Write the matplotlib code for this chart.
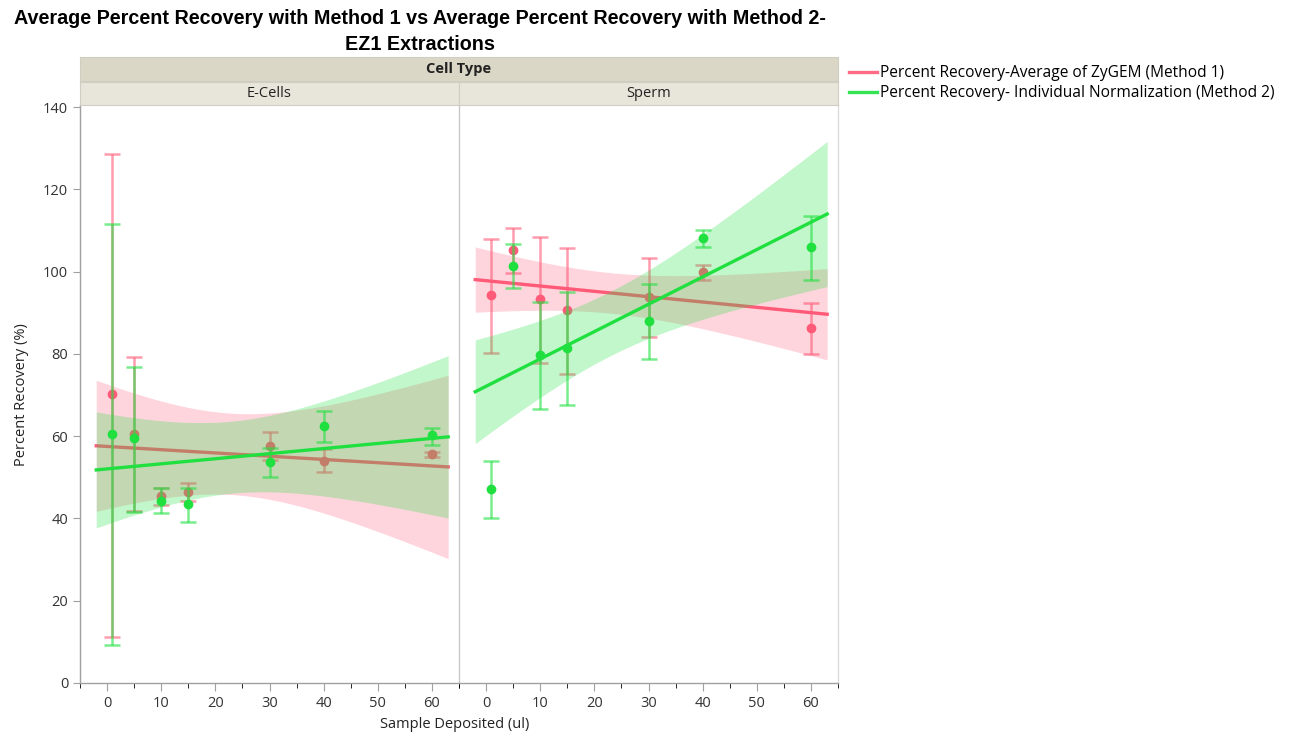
import numpy as np
import matplotlib
matplotlib.use("Agg")
import matplotlib.pyplot as plt
from matplotlib.lines import Line2D

plt.rcParams['font.family'] = ['Open Sans', 'DejaVu Sans']

# x values (sample deposited, ul)
deposited = np.array([1, 5, 10, 15, 30, 40, 60])

# E-Cells (mean, mean - SD, mean + SD)
ecell_m1 = np.array([70.2, 60.5, 45.4, 46.5, 57.6, 54.0, 55.6])
ecell_m1_lo = np.array([11.1, 41.7, 43.3, 44.2, 54.3, 51.2, 54.9])
ecell_m1_hi = np.array([128.7, 79.3, 47.4, 48.5, 60.9, 56.8, 56.2])
ecell_m2 = np.array([60.5, 59.5, 44.3, 43.5, 53.7, 62.5, 60.2])
ecell_m2_lo = np.array([9.2, 41.6, 41.3, 39.2, 50.0, 58.6, 57.9])
ecell_m2_hi = np.array([111.5, 76.9, 47.4, 47.4, 57.1, 66.2, 62.1])

# Sperm
sperm_m1 = np.array([94.2, 105.3, 93.3, 90.7, 93.9, 100.0, 86.3])
sperm_m1_lo = np.array([80.1, 99.7, 77.8, 75.1, 84.0, 98.0, 79.9])
sperm_m1_hi = np.array([107.9, 110.6, 108.5, 105.8, 103.4, 101.7, 92.4])
sperm_m2 = np.array([47.2, 101.4, 79.7, 81.4, 88.0, 108.2, 106.0])
sperm_m2_lo = np.array([40.1, 96.1, 66.5, 67.5, 78.8, 106.1, 98.0])
sperm_m2_hi = np.array([54.0, 106.6, 92.7, 95.0, 97.1, 110.0, 113.4])

panels = ["E-Cells", "Sperm"]
series_names = ["Percent Recovery-Average of ZyGEM (Method 1)",
                "Percent Recovery- Individual Normalization (Method 2)"]

PINK = "#ff5a78"
GREEN = "#20e040"
N_REP = 3       # replicates behind each mean
T975 = 2.093    # t quantile, df = 7*3 - 2


def fit_band(ax, x, y, sd, color, band_alpha, z):
    # linear fit through the means, 95% confidence band of the mean
    # using pooled replicate variation (sd from the error bars)
    b, a = np.polyfit(x, y, 1)
    res = y - (a + b * x)
    n = len(x) * N_REP
    sse = N_REP * np.sum(res ** 2) + (N_REP - 1) * np.sum(sd ** 2)
    s = np.sqrt(sse / (n - 2))
    sxx = N_REP * np.sum((x - x.mean()) ** 2)
    xs = np.linspace(-2, 63, 200)
    se = s * np.sqrt(1.0 / n + (xs - x.mean()) ** 2 / sxx)
    yf = a + b * xs
    ax.fill_between(xs, yf - T975 * se, yf + T975 * se, color=color,
                    alpha=band_alpha, lw=0, zorder=z)
    ax.plot(xs, yf, color=color, lw=2.4, zorder=z + 1)


def draw_series(ax, y, lo, hi, color, band_alpha, z):
    fit_band(ax, deposited, y, (hi - lo) / 2.0, color, band_alpha, z)
    ax.errorbar(deposited, y, yerr=[y - lo, hi - y], fmt='none',
                ecolor=color, alpha=0.6, elinewidth=1.8, capsize=6,
                capthick=1.8, zorder=z + 1)
    ax.plot(deposited, y, 'o', color=color, ms=6, zorder=z + 1)


fig = plt.figure(figsize=(12.93, 7.34), dpi=100)

W, H = 1293.0, 734.0
left0, right0, top0, bot0 = 80, 459, 105, 683
pw = right0 - left0
FS = 10.5

data = [
    [(ecell_m1, ecell_m1_lo, ecell_m1_hi), (ecell_m2, ecell_m2_lo, ecell_m2_hi)],
    [(sperm_m1, sperm_m1_lo, sperm_m1_hi), (sperm_m2, sperm_m2_lo, sperm_m2_hi)],
]

for i, name in enumerate(panels):
    x0 = left0 + i * pw
    ax = fig.add_axes([x0 / W, 1 - bot0 / H, pw / W, (bot0 - top0) / H])
    (m1, m1lo, m1hi), (m2, m2lo, m2hi) = data[i]
    draw_series(ax, m1, m1lo, m1hi, PINK, 0.25, 2)
    draw_series(ax, m2, m2lo, m2hi, GREEN, 0.27, 4)

    ax.set_xlim(-5, 65)
    ax.set_ylim(0, 140.5)
    ax.set_xticks(np.arange(0, 61, 10))
    ax.set_xticks(np.arange(-5, 66, 5), minor=True)
    ax.set_yticks(np.arange(0, 141, 20))
    ax.tick_params(axis='both', colors="#a0a0a0", labelcolor="#333333",
                   labelsize=FS, direction='out')
    ax.tick_params(axis='x', which='major', length=6)
    ax.tick_params(axis='x', which='minor', length=3.5)
    ax.tick_params(axis='y', length=5)
    for sp in ax.spines.values():
        sp.set_color("#c8c8c8")
        sp.set_linewidth(1.0)
    ax.spines['top'].set_visible(False)
    ax.spines['bottom'].set_color("#a0a0a0")
    if i == 0:
        ax.spines['left'].set_color("#a0a0a0")
        ax.spines['right'].set_visible(False)
    else:
        ax.tick_params(axis='y', left=False, labelleft=False)
        ax.spines['right'].set_color("#dcdcdc")

    # panel strip
    sax = fig.add_axes([x0 / W, 1 - 105 / H, pw / W, 23 / H])
    sax.set_facecolor("#e8e6da")
    sax.set_xticks([])
    sax.set_yticks([])
    for sp in sax.spines.values():
        sp.set_color("#d0cec2")
    sax.text(0.5, 0.5, name, ha='center', va='center', fontsize=FS,
             color="#222222", transform=sax.transAxes)

# top strip
tax = fig.add_axes([left0 / W, 1 - 81 / H, 2 * pw / W, 24 / H])
tax.set_facecolor("#dad7c7")
tax.set_xticks([])
tax.set_yticks([])
for sp in tax.spines.values():
    sp.set_color("#d0cec2")
tax.text(0.5, 0.5, "Cell Type", ha='center', va='center', fontsize=FS,
         fontweight='bold', color="#222222", transform=tax.transAxes)

title_font = ['Liberation Sans', 'DejaVu Sans']
fig.text(420 / W, 1 - 18 / H,
         "Average Percent Recovery with Method 1 vs Average Percent Recovery with Method 2-",
         ha='center', va='center', fontsize=14.2, fontweight='bold',
         family=title_font)
fig.text(420 / W, 1 - 45 / H, "EZ1 Extractions",
         ha='center', va='center', fontsize=14.2, fontweight='bold',
         family=title_font)

fig.text(455 / W, 1 - 724 / H, "Sample Deposited (ul)", ha='center',
         va='center', fontsize=FS, color="#222222")
fig.text(22 / W, 1 - 395 / H, "Percent Recovery (%)", ha='center',
         va='center', rotation=90, fontsize=FS, color="#222222")

handles = [Line2D([], [], color=PINK, lw=2.4, alpha=0.9),
           Line2D([], [], color=GREEN, lw=2.4, alpha=0.9)]
fig.legend(handles, series_names, loc='upper left',
           bbox_to_anchor=(843 / W, 1 - 59 / H), frameon=False,
           fontsize=11.2, handlelength=1.8, handletextpad=0.2,
           labelspacing=0.25, borderaxespad=0)

fig.savefig("out.png", dpi=100)
